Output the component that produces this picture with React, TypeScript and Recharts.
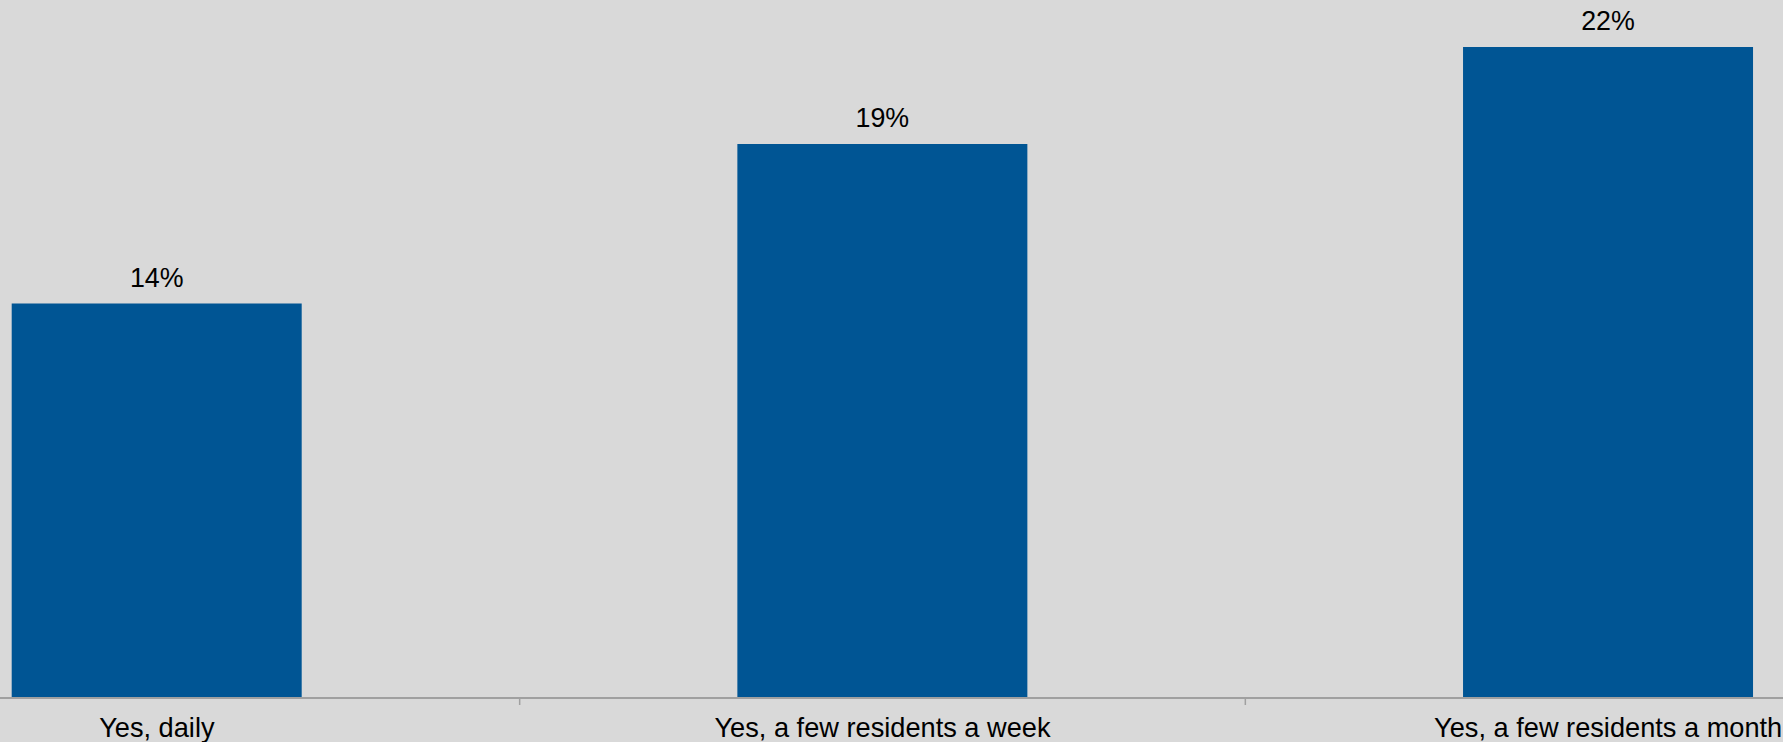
import React from 'react';
import { BarChart, Bar, XAxis, YAxis, LabelList } from 'recharts';

const categories = ['Yes, daily', 'Yes, a few residents a week', 'Yes, a few residents a month'];
const values = [13.6, 19.1, 22.45];
const valueLabels = ['14%', '19%', '22%'];

const data = categories.map((c, i) => ({ name: c, value: values[i], label: valueLabels[i] }));

const CHART_W = 2177;
const CHART_H = 742;
const FONT = '"Liberation Sans", Arial, sans-serif';

const Tick = (props: any) => {
  const { x, y, payload, index } = props;
  const half = payload && payload.offset ? payload.offset : CHART_W / 6;
  return (
    <g>
      {index > 0 && (
        <line x1={x - half} x2={x - half} y1={y + 1} y2={y + 7} stroke="#a0a0a0" strokeWidth={1.5} />
      )}
      <text x={x} y={y + 38.5} textAnchor="middle" fill="#000" fontSize={27.2} fontFamily={FONT}>
        {payload.value}
      </text>
    </g>
  );
};

export default function App() {
  return (
    <div
      style={{
        position: 'fixed',
        left: 0,
        top: 0,
        width: 1783,
        height: 742,
        overflow: 'hidden',
        background: '#d9d9d9',
      }}
    >
      <div style={{ position: 'absolute', left: -206, top: 0 }}>
        <BarChart
          width={CHART_W}
          height={CHART_H}
          data={data}
          margin={{ top: 2, right: 0, left: 0, bottom: 0 }}
          barCategoryGap="30%"
        >
          <YAxis hide domain={[0, 24]} />
          <XAxis
            dataKey="name"
            height={44}
            interval={0}
            tickSize={0}
            tickMargin={0}
            tickLine={false}
            axisLine={{ stroke: '#a0a0a0', strokeWidth: 2 }}
            tick={<Tick />}
          />
          <Bar dataKey="value" fill="#005594" isAnimationActive={false}>
            <LabelList
              dataKey="label"
              position="top"
              offset={17}
              fill="#000"
              fontSize={26.8}
              fontFamily={FONT}
            />
          </Bar>
        </BarChart>
      </div>
    </div>
  );
}
